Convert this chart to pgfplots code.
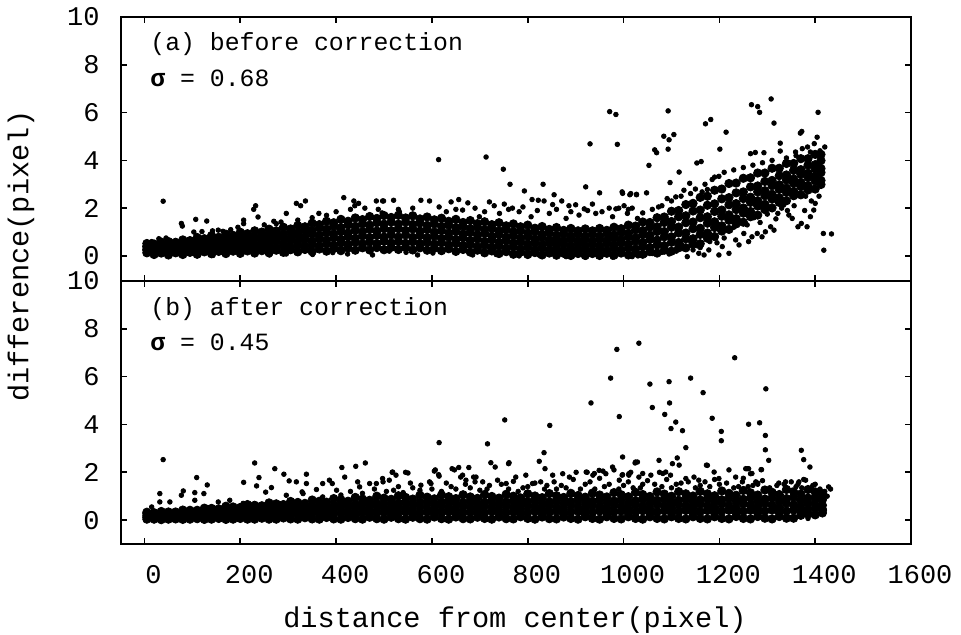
\documentclass[border=0pt]{standalone}
\usepackage{fontspec}
\setmainfont{Liberation Mono}
\usepackage{pgfplots}
\usepackage{pgfplotstable}
\pgfplotsset{compat=1.18}

\pgfplotstableread{
x a b c d e f
5 .13 .24 .28 .39 .40 .52
20 .06 .2 .25 .37 .47 .5
35 .12 .15 .29 .31 .45 .58
50 .04 .18 .23 .39 .42 .6
65 .13 .17 .34 .35 .52 .57
80 .06 .22 .28 .46 .49 .67
95 .15 .19 .37 .42 .59 .64
110 .07 .26 .32 .51 .56 .77
125 .17 .21 .41 .46 .66 .72
140 .09 .3 .36 .56 .61 .85
155 .19 .24 .46 .51 .74 .78
170 .1 .31 .39 .62 .68 .91
185 .2 .26 .49 .56 .79 .86
200 .11 .35 .43 .66 .74 .99
215 .21 .28 .52 .61 .84 .93
230 .12 .37 .46 .71 .79 1.05
245 .22 .31 .56 .66 .9 1.0
260 .13 .38 .49 .76 .86 1.12
275 .24 .33 .6 .7 .96 1.05
290 .15 .42 .53 .8 .91 1.2
305 .26 .36 .64 .76 1.02 1.13
320 .17 .45 .58 .86 .98 1.27
335 .27 .39 .68 .81 1.09 1.22
350 .18 .48 .62 .92 1.06 1.37
365 .29 .42 .72 .86 1.17 1.31
380 .2 .51 .66 .97 1.12 1.45
395 .31 .45 .76 .92 1.24 1.39
410 .22 .54 .7 1.03 1.19 1.53
425 .33 .48 .8 .96 1.3 1.45
440 .24 .57 .74 1.07 1.24 1.59
455 .34 .51 .84 1.01 1.34 1.52
470 .25 .58 .77 1.11 1.29 1.65
485 .35 .52 .86 1.04 1.39 1.57
500 .26 .61 .79 1.14 1.33 1.69
515 .36 .54 .88 1.06 1.42 1.61
530 .27 .6 .79 1.14 1.33 1.7
545 .35 .53 .88 1.07 1.42 1.59
560 .25 .59 .78 1.13 1.32 1.68
575 .34 .52 .85 1.04 1.38 1.55
590 .24 .57 .76 1.1 1.28 1.63
605 .32 .5 .83 1.0 1.34 1.51
620 .22 .55 .73 1.06 1.24 1.58
635 .3 .46 .79 .96 1.29 1.45
650 .19 .52 .69 1.02 1.19 1.53
665 .27 .43 .76 .92 1.24 1.4
680 .16 .48 .65 .98 1.14 1.48
695 .24 .39 .71 .88 1.2 1.35
710 .13 .44 .61 .94 1.1 1.43
725 .21 .36 .67 .83 1.15 1.31
740 .1 .41 .57 .89 1.05 1.39
755 .18 .33 .64 .79 1.11 1.26
770 .07 .38 .54 .85 1.01 1.34
785 .16 .3 .6 .75 1.06 1.22
800 .06 .36 .5 .81 .96 1.29
815 .14 .27 .57 .71 1.02 1.16
830 .04 .33 .47 .77 .91 1.23
845 .12 .25 .54 .67 .97 1.11
860 .03 .31 .44 .73 .87 1.19
875 .11 .23 .51 .64 .93 1.07
890 .02 .3 .42 .71 .84 1.15
905 .1 .22 .49 .62 .91 1.05
920 .02 .29 .41 .69 .82 1.13
935 .1 .22 .5 .62 .91 1.05
950 .02 .29 .41 .7 .83 1.15
965 .11 .23 .52 .64 .94 1.07
980 .03 .31 .45 .74 .88 1.2
995 .12 .25 .55 .69 .99 1.14
1010 .04 .34 .49 .8 .95 1.29
1025 .14 .29 .61 .76 1.09 1.25
1040 .07 .39 .56 .89 1.06 1.42
1055 .18 .35 .69 .87 1.21 1.4
1070 .12 .46 .66 1.02 1.22 1.6
1085 .24 .43 .8 1.02 1.4 1.63
1100 .2 .57 .8 1.2 1.44 1.87
1115 .34 .56 .96 1.21 1.64 1.9
1130 .34 .72 .96 1.39 1.68 2.15
1145 .49 .72 1.14 1.42 1.88 2.2
1160 .51 .9 1.16 1.6 1.92 2.45
1175 .74 .96 1.37 1.64 2.12 2.5
1190 .81 1.19 1.43 1.86 2.18 2.75
1205 1.04 1.26 1.66 1.92 2.39 2.8
1220 1.11 1.49 1.72 2.14 2.44 3.03
1235 1.34 1.56 1.94 2.19 2.64 3.05
1250 1.41 1.79 2.01 2.4 2.68 3.25
1265 1.64 1.86 2.24 2.46 2.89 3.27
1280 1.71 2.09 2.31 2.68 2.93 3.47
1295 1.94 2.16 2.52 2.73 3.12 3.47
1310 2.01 2.38 2.58 2.94 3.16 3.67
1325 2.24 2.44 2.79 2.98 3.36 3.67
1340 2.31 2.66 2.84 3.18 3.39 3.87
1355 2.52 2.7 3.04 3.22 3.58 3.87
1370 2.56 2.9 3.08 3.42 3.61 4.07
1385 2.76 2.94 3.28 3.46 3.8 4.07
1400 2.8 3.14 3.32 3.64 3.82 4.25
1412 2.99 3.16 3.49 3.66 3.99 4.25
}\coreA

\pgfplotstableread{
x y
39 2.29
77 1.36
79 1.25
107 1.53
130 1.46
103 1.0
120 1.02
142 1.05
154 1.08
164 1.03
232 2.1
228 1.95
207 1.5
207 1.35
237 1.63
317 2.2
326 2.1
336 2.3
296 1.78
364 1.78
270 1.45
285 1.42
416 2.44
437 2.3
447 2.2
439 2.1
484 2.3
499 2.3
488 1.95
496 1.8
18 .04
37 .1
74 .08
143 .02
199 .04
261 .04
296 .08
318 .12
351 .06
393 .14
424 .08
470 .2
476 .04
15 .6
30 .72
45 .75
25 .15
9 .39
20 0
763 3.0
832 3.0
793 2.72
921 2.89
950 2.64
855 2.56
998 2.62
1013 2.56
1027 2.56
497 2.3
520 2.33
577 2.33
595 2.3
640 2.26
656 2.36
675 2.22
720 2.26
730 2.1
751 2.17
768 2.0
809 2.36
822 2.33
834 2.3
852 2.15
871 2.3
886 2.1
900 2.14
918 1.97
935 2.17
970 2.0
984 1.97
1001 2.1
1018 2.0
532 1.85
630 1.85
664 1.92
699 1.64
741 1.78
782 1.85
807 1.64
845 1.78
880 1.57
907 1.71
942 1.78
977 1.64
1008 1.78
1029 1.57
511 .2
546 .15
570 .04
602 .12
685 .04
734 .06
782 0
824 .03
880 -.03
921 -.05
977 -.05
1018 -.03
614 4.03
713 4.14
749 3.63
971 6.04
984 5.92
987 4.67
930 4.69
1093 6.07
1084 5.01
1095 4.86
1105 5.08
1093 4.47
1065 4.44
1069 4.32
1053 3.79
1171 5.53
1182 5.71
1214 5.18
1201 4.47
1267 6.33
1280 6.25
1284 6.01
1308 6.57
1314 5.56
1406 6.01
1369 5.14
1372 5.21
1153 3.89
1162 3.95
1116 3.51
1097 3.07
1138 3.04
1185 3.2
1199 3.33
1265 4.28
1275 4.33
1293 4.32
1327 4.72
1327 4.39
1404 4.97
1420 4.56
1359 4.35
1384 4.56
1398 4.7
1373 4.49
1417 .94
1434 .92
1418 .24
1397 1.92
1383 1.22
1390 1.64
1364 1.22
1371 1.36
1345 1.71
1352 1.57
1322 1.78
1334 2.13
1307 1.22
1314 1.08
1296 1.01
1289 .8
1279 .94
1261 .6
1268 .8
1251 .94
1234 .67
1241 .46
1220 .11
1206 .39
1199 .04
1178 .25
1168 .04
1157 .11
1133 -.03
1154 .42
1140 .6
1122 .46
997 2.68
1015 2.61
1027 2.58
1048 2.64
1073 2.05
1091 2.4
1109 2.47
1126 2.75
1140 2.61
1164 2.68
1175 2.78
1230 1.2
1245 1.45
1258 1.3
1272 1.6
1285 1.4
1300 1.75
1318 1.55
1330 2.0
1342 1.9
1356 2.1
1378 1.9
1392 2.3
1408 2.5
1400 2.2
1380 2.5
1040 1.8
1060 1.95
1080 2.1
1100 2.3
1120 2.5
1150 2.8
1170 3.0
1190 3.3
1210 3.5
1230 3.6
1250 3.7
1270 3.8
1290 3.9
1310 4.0
1340 4.1
1360 4.2
1390 4.35
1410 4.4
1030 0
1045 .05
1060 .1
1080 .15
1095 .08
1110 .2
1125 .3
1145 .25
1160 .35
1180 .6
1195 .55
1210 .75
530 1.95
560 2.0
615 2.05
650 1.95
690 2.0
710 1.85
760 1.95
790 2.05
820 1.9
860 1.95
890 1.85
925 1.9
955 1.85
990 2.0
1010 1.95
380 1.7
400 1.85
430 1.95
460 2.0
350 1.6
320 1.5
275 1.35
250 1.3
180 1.1
195 1.2
}\sparseA

\pgfplotstableread{
x a b c d e
5 .04 .12 .18 .27 .33
20 .04 .09 .15 .23 .31
35 .02 .11 .2 .25 .36
50 .04 .12 .19 .27 .34
65 .05 .1 .17 .25 .34
80 .03 .13 .23 .29 .42
95 .04 .15 .23 .33 .41
110 .06 .12 .2 .3 .41
125 .03 .15 .28 .35 .5
140 .04 .17 .27 .39 .49
155 .07 .14 .23 .35 .47
170 .03 .17 .32 .41 .58
185 .04 .2 .3 .44 .55
200 .07 .16 .26 .39 .53
215 .04 .2 .36 .46 .65
230 .04 .22 .34 .5 .62
245 .08 .18 .29 .44 .6
260 .04 .22 .4 .5 .72
275 .04 .24 .37 .55 .68
290 .09 .19 .32 .48 .65
305 .05 .23 .43 .55 .78
320 .04 .26 .4 .59 .74
335 .1 .21 .34 .52 .7
350 .05 .25 .46 .59 .84
365 .04 .28 .43 .64 .79
380 .11 .22 .37 .55 .75
395 .05 .27 .5 .63 .9
410 .04 .3 .46 .68 .85
425 .11 .23 .39 .59 .79
440 .06 .29 .52 .67 .95
455 .04 .32 .48 .71 .88
470 .12 .25 .41 .62 .83
485 .06 .3 .55 .7 1.0
500 .04 .33 .5 .74 .92
515 .12 .26 .43 .64 .87
530 .06 .31 .56 .71 1.02
545 .04 .34 .52 .76 .95
560 .12 .26 .43 .65 .88
575 .06 .31 .57 .73 1.04
590 .04 .34 .52 .77 .96
605 .13 .26 .44 .66 .89
620 .06 .32 .58 .74 1.05
635 .04 .35 .53 .78 .98
650 .13 .27 .45 .67 .9
665 .06 .32 .58 .74 1.06
680 .05 .34 .54 .79 .97
695 .12 .28 .46 .66 .91
710 .07 .31 .59 .75 1.07
725 .04 .36 .54 .8 .99
740 .13 .27 .45 .68 .92
755 .06 .33 .59 .76 1.08
770 .05 .35 .55 .8 1.0
785 .14 .28 .46 .69 .93
800 .07 .33 .6 .77 1.1
815 .04 .36 .55 .81 1.01
830 .13 .28 .46 .69 .94
845 .06 .34 .61 .77 1.11
860 .05 .37 .56 .82 1.02
875 .13 .27 .47 .7 .95
890 .07 .34 .62 .78 1.12
905 .04 .37 .56 .83 1.03
920 .14 .28 .47 .71 .96
935 .07 .35 .62 .79 1.13
950 .04 .38 .57 .84 1.05
965 .14 .29 .48 .72 .97
980 .07 .35 .63 .8 1.15
995 .05 .38 .58 .85 1.06
1010 .14 .29 .48 .72 .98
1025 .07 .36 .64 .81 1.16
1040 .04 .39 .58 .86 1.07
1055 .14 .3 .49 .73 .99
1070 .07 .35 .65 .83 1.18
1085 .05 .39 .59 .87 1.09
1100 .14 .3 .5 .74 1.0
1115 .07 .36 .65 .83 1.19
1130 .05 .4 .6 .88 1.1
1145 .14 .3 .5 .75 1.01
1160 .07 .36 .66 .84 1.2
1175 .05 .4 .6 .89 1.1
1190 .14 .3 .5 .76 1.02
1205 .07 .37 .67 .85 1.22
1220 .05 .41 .61 .9 1.12
1235 .15 .31 .51 .77 1.04
1250 .07 .37 .68 .87 1.24
1265 .05 .41 .62 .92 1.14
1280 .15 .31 .52 .78 1.05
1295 .08 .38 .69 .88 1.26
1310 .05 .42 .63 .93 1.16
1325 .15 .32 .53 .8 1.07
1340 .08 .38 .7 .9 1.28
1355 .08 .42 .64 .95 1.18
1370 .2 .35 .55 .81 1.09
1385 .25 .45 .72 .92 1.28
1400 .22 .5 .68 .95 1.18
1415 .3 .45 .62 .85 1.1
}\coreB

\pgfplotstableread{
x y
39 2.53
32 1.11
32 .76
53 .76
77 1.04
81 1.22
105 1.15
109 1.78
124 1.11
131 1.47
105 .83
230 2.39
239 1.78
234 1.43
207 1.58
272 2.15
291 1.92
302 1.64
317 1.6
338 1.92
338 1.53
265 1.36
253 1.17
329 1.18
359 1.28
372 1.53
386 1.67
392 1.53
412 2.2
441 2.25
461 2.39
418 1.8
445 1.6
449 1.39
470 1.53
484 1.53
498 1.6
154 .76
178 .83
206 .7
296 1.04
331 1.11
372 .97
401 1.25
15 .55
11 .28
22 .07
615 3.24
605 2.05
615 1.84
647 2.1
677 2.2
660 1.8
687 1.8
517 2.0
545 2.0
834 2.82
824 2.46
836 2.15
760 2.36
723 2.4
732 2.22
761 2.4
752 4.19
716 3.19
846 3.96
932 4.9
973 5.94
986 7.14
991 4.33
1032 7.4
1055 5.69
1060 4.71
1095 5.79
1096 4.9
1086 4.42
1109 4.1
1099 3.83
1123 3.74
1130 3.03
1140 5.94
1166 5.33
1185 4.26
1204 3.71
1204 3.32
1232 6.79
1261 4.01
1284 4.07
1296 3.54
1297 5.49
1296 2.94
1303 2.5
1287 2.11
1371 2.92
1376 2.53
1389 2.22
1074 2.5
1025 2.43
998 2.64
1075 2.0
1082 1.95
1112 2.6
1116 2.3
1173 2.3
1220 2.1
1255 2.15
1261 2.15
1268 1.95
1280 1.55
1324 1.55
1364 1.5
1376 1.7
1432 1.3
1385 .07
1419 .4
998 1.9
1015 2.0
1040 1.95
901 2.0
924 2.0
939 1.95
957 2.05
980 2.1
1102 2.36
1175 2.29
1189 2.01
1258 2.15
1265 1.94
1288 2.11
1338 1.6
1366 1.6
1380 1.67
1428 1.39
1352 1.25
1393 1.25
997 1.88
1011 1.94
1032 1.8
1057 1.88
1088 2.01
1098 1.88
1130 1.74
1147 1.8
1157 1.67
1199 1.74
1234 1.8
1248 1.6
1276 1.6
577 1.46
598 1.53
664 1.88
671 1.67
692 1.8
706 1.6
737 1.67
755 1.53
775 1.8
796 1.88
810 1.53
827 1.6
852 1.88
873 1.94
887 1.8
922 2.01
936 1.88
949 2.08
963 1.94
977 2.22
991 1.67
1011 1.88
1029 2.43
518 2.01
525 1.88
550 1.97
497 1.74
511 1.67
656 2.2
642 2.15
607 2.1
614 1.9
1024 2.39
520 1.25
560 1.35
600 1.3
640 1.4
680 1.35
720 1.45
760 1.3
800 1.4
840 1.45
880 1.35
920 1.5
960 1.4
1000 1.45
1040 1.5
1080 1.4
1120 1.55
1160 1.45
1200 1.5
1240 1.4
1280 1.5
1320 1.45
1360 1.4
1400 1.5
540 1.15
620 1.2
700 1.25
780 1.2
860 1.3
940 1.3
1020 1.35
1100 1.35
1180 1.4
1260 1.4
1340 1.35
1420 1.2
410 1.05
430 1.2
455 1.12
480 1.3
505 1.2
530 1.4
555 1.55
575 1.25
595 1.6
630 1.55
650 1.3
670 1.5
690 1.6
715 1.3
745 1.5
770 1.62
790 1.35
815 1.55
835 1.3
855 1.6
870 1.45
895 1.7
910 1.3
930 1.6
950 1.75
970 1.5
990 1.3
1010 1.6
1035 1.35
1050 1.65
1065 1.5
1090 1.7
1110 1.5
1135 1.6
1150 1.35
1170 1.6
1190 1.7
1215 1.55
1230 1.35
1250 1.75
1270 1.45
1290 1.65
1305 1.35
1335 1.5
1350 1.6
1372 1.35
1395 1.45
1410 1.3
1425 1.0
}\sparseB

\pgfplotsset{
  panel/.style={
    scale only axis, width=395pt,
    xmin=-49, xmax=1600, ymax=10,
    xtick={0,200,...,1600}, ytick={0,2,...,10},
    tick align=inside, major tick length=3pt, tick pos=both,
    axis line style={line width=0.8pt},
    every tick/.style={black, line width=0.8pt},
    /pgf/number format/assume math mode=true,
    /pgf/number format/1000 sep={},
    tick label style={font=\fontsize{13.5}{14}\selectfont},
    yticklabel style={anchor=east, inner sep=0pt, xshift=-10.5pt},
    xticklabel style={anchor=center, inner sep=0pt, yshift=-15.5pt, xshift=4.5pt},
  },
  core/.style={only marks, mark=*, mark size=2.1pt, mark options={draw=none, fill=black}},
  sparse/.style={only marks, mark=*, mark size=1.15pt, mark options={draw=none, fill=black}},
}

\begin{document}
\begin{tikzpicture}
\useasboundingbox (0,0) rectangle (480.5pt,-317pt);

\begin{axis}[panel, at={(60.5pt,-140.5pt)}, anchor=south west,
  height=132pt, ymin=-1.05, xticklabels={,,}]
\addplot[core] table[x=x,y=a]{\coreA};
\addplot[core] table[x=x,y=b]{\coreA};
\addplot[core] table[x=x,y=c]{\coreA};
\addplot[core] table[x=x,y=d]{\coreA};
\addplot[core] table[x=x,y=e]{\coreA};
\addplot[core] table[x=x,y=f]{\coreA};
\addplot[sparse] table[x=x,y=y]{\sparseA};
\end{axis}

\begin{axis}[panel, at={(60.5pt,-272pt)}, anchor=south west,
  height=131.5pt, ymin=-1.0]
\addplot[core] table[x=x,y=a]{\coreB};
\addplot[core] table[x=x,y=b]{\coreB};
\addplot[core] table[x=x,y=c]{\coreB};
\addplot[core] table[x=x,y=d]{\coreB};
\addplot[core] table[x=x,y=e]{\coreB};
\addplot[sparse] table[x=x,y=y]{\sparseB};
\end{axis}

\tikzset{ann/.style={anchor=base west, inner sep=0pt, font=\fontsize{12.4}{14}\selectfont}}
\node[ann] at (75pt,-25.3pt) {(a) before correction};
\node[ann] at (75pt,-43.3pt) {{\bfseries σ} = 0.68};
\node[ann] at (75pt,-157.5pt) {(b) after correction};
\node[ann] at (75pt,-175.3pt) {{\bfseries σ} = 0.45};

\node[rotate=90, inner sep=0pt, font=\fontsize{14.3}{16}\selectfont] at (10.5pt,-128pt) {difference(pixel)};
\node[anchor=base, inner sep=0pt, font=\fontsize{14.3}{16}\selectfont] at (257.5pt,-313.5pt) {distance from center(pixel)};
\end{tikzpicture}
\end{document}
